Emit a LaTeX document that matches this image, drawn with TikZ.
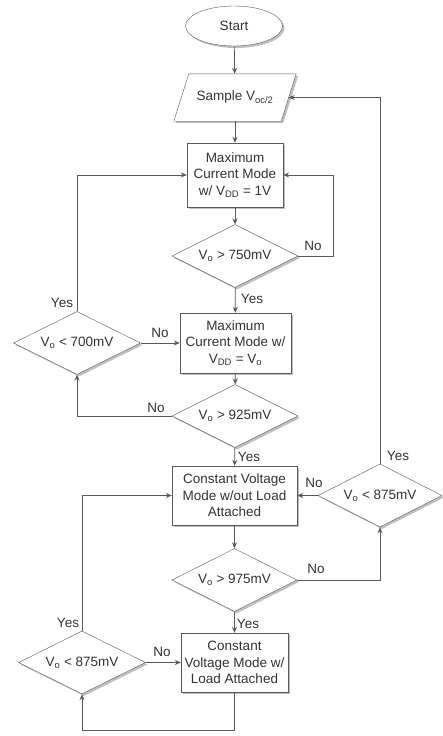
\documentclass[tikz,border=0pt]{standalone}
\usepackage{fontspec}
\setmainfont{Liberation Sans}
\usetikzlibrary{shapes.geometric,arrows.meta,shadows}
\definecolor{linegray}{HTML}{595959}
\definecolor{textgray}{HTML}{333333}

\begin{document}
\begin{tikzpicture}[x=1pt,y=-1pt,
    every node/.style={text=textgray,font=\fontsize{13.5}{16.5}\selectfont},
    shade/.style={drop shadow={shadow xshift=2pt,shadow yshift=-2pt,fill=black,opacity=0.25}},
    box/.style={draw=linegray,fill=white,shade,align=center,inner sep=1pt},
    decision/.style={draw=linegray,fill=white,shade,diamond,aspect=2,inner sep=0pt,minimum width=126pt,minimum height=63pt},
    arr/.style={draw=linegray,line width=0.8pt,-{Stealth[length=6pt,width=5pt]}},
    lbl/.style={inner sep=0pt}]
    \useasboundingbox (0,0) rectangle (443,736);

    \node[box,ellipse,minimum width=97pt,minimum height=40pt] (start) at (234,26) {Start};
    % sample step as a parallelogram
    \node[minimum width=107pt,minimum height=47pt,inner sep=0pt] (sample) at (235,97.5) {};
    \draw[draw=linegray,fill=white,shade] ([xshift=-7.5pt]sample.south west) -- ([xshift=7.5pt]sample.north west)
        -- ([xshift=7.5pt]sample.north east) -- ([xshift=-7.5pt]sample.south east) -- cycle;
    \node at (sample) {Sample V\textsubscript{oc/2}};
    \node[box,minimum width=96pt,minimum height=64pt] (mc1) at (235,175)
        {Maximum\\Current Mode\\w/ V\textsubscript{DD} = 1V};
    \node[decision] (d1) at (235,256) {V\textsubscript{o} > 750mV};
    \node[box,minimum width=111pt,minimum height=60pt] (mc2) at (235.5,343)
        {Maximum\\Current Mode w/\\V\textsubscript{DD} = V\textsubscript{o}};
    \node[decision,minimum width=127pt] (dl1) at (77,343) {V\textsubscript{o} < 700mV};
    \node[decision] (d2) at (235,416) {V\textsubscript{o} > 925mV};
    \node[box,minimum width=125pt,minimum height=59pt] (cv1) at (234.5,495.5)
        {Constant Voltage\\Mode w/out Load\\Attached};
    \node[decision,minimum width=124pt] (dr) at (380,495.5) {V\textsubscript{o} < 875mV};
    \node[decision,minimum width=125pt] (d3) at (234.5,580) {V\textsubscript{o} > 975mV};
    \node[box,minimum width=107pt,minimum height=59pt] (cv2) at (234.5,662.5)
        {Constant\\Voltage Mode w/\\Load Attached};
    \node[decision,minimum width=127pt] (dl2) at (82,662.5) {V\textsubscript{o} < 875mV};

    % connectors
    \draw[arr] (start) -- (sample);
    \draw[arr] (sample) -- (mc1);
    \draw[arr] (mc1) -- (d1);
    \draw[arr] (d1.east) -- ++(35,0) |- (mc1.east);
    \draw[arr] (d1) -- (mc2);
    \draw[arr] (mc2) -- (d2);
    \draw[arr] (dl1) -- (mc2);
    \draw[arr] (dl1.north) |- (mc1.west);
    \draw[arr] (d2.west) -| (dl1.south);
    \draw[arr] (d2) -- (cv1);
    \draw[arr] (cv1) -- (d3);
    \draw[arr] (dr) -- (cv1);
    \draw[arr] (dr.north) |- (sample.east);
    \draw[arr] (d3.east) -| (dr.south);
    \draw[arr] (d3) -- (cv2);
    \draw[arr] (dl2) -- (cv2);
    \draw[arr] (dl2.north) |- (cv1.west);
    \draw[arr] (cv2.south) -- ++(0,38) -| (dl2.south);

    % labels
    \node[lbl] (no1) at (313,246) {No};
    \node[lbl] (yes1) at (252,299) {Yes};
    \node[lbl] (yes2) at (62,303) {Yes};
    \node[lbl] (no2) at (160,333) {No};
    \node[lbl] (no3) at (156,408) {No};
    \node[lbl] (yes3) at (249,457) {Yes};
    \node[lbl] (no4) at (314,483) {No};
    \node[lbl] (yes4) at (398,456) {Yes};
    \node[lbl] (no5) at (316,569) {No};
    \node[lbl] (yes5) at (248,624) {Yes};
    \node[lbl] (yes6) at (68,623) {Yes};
    \node[lbl] (no6) at (162,652) {No};
\end{tikzpicture}
\end{document}
